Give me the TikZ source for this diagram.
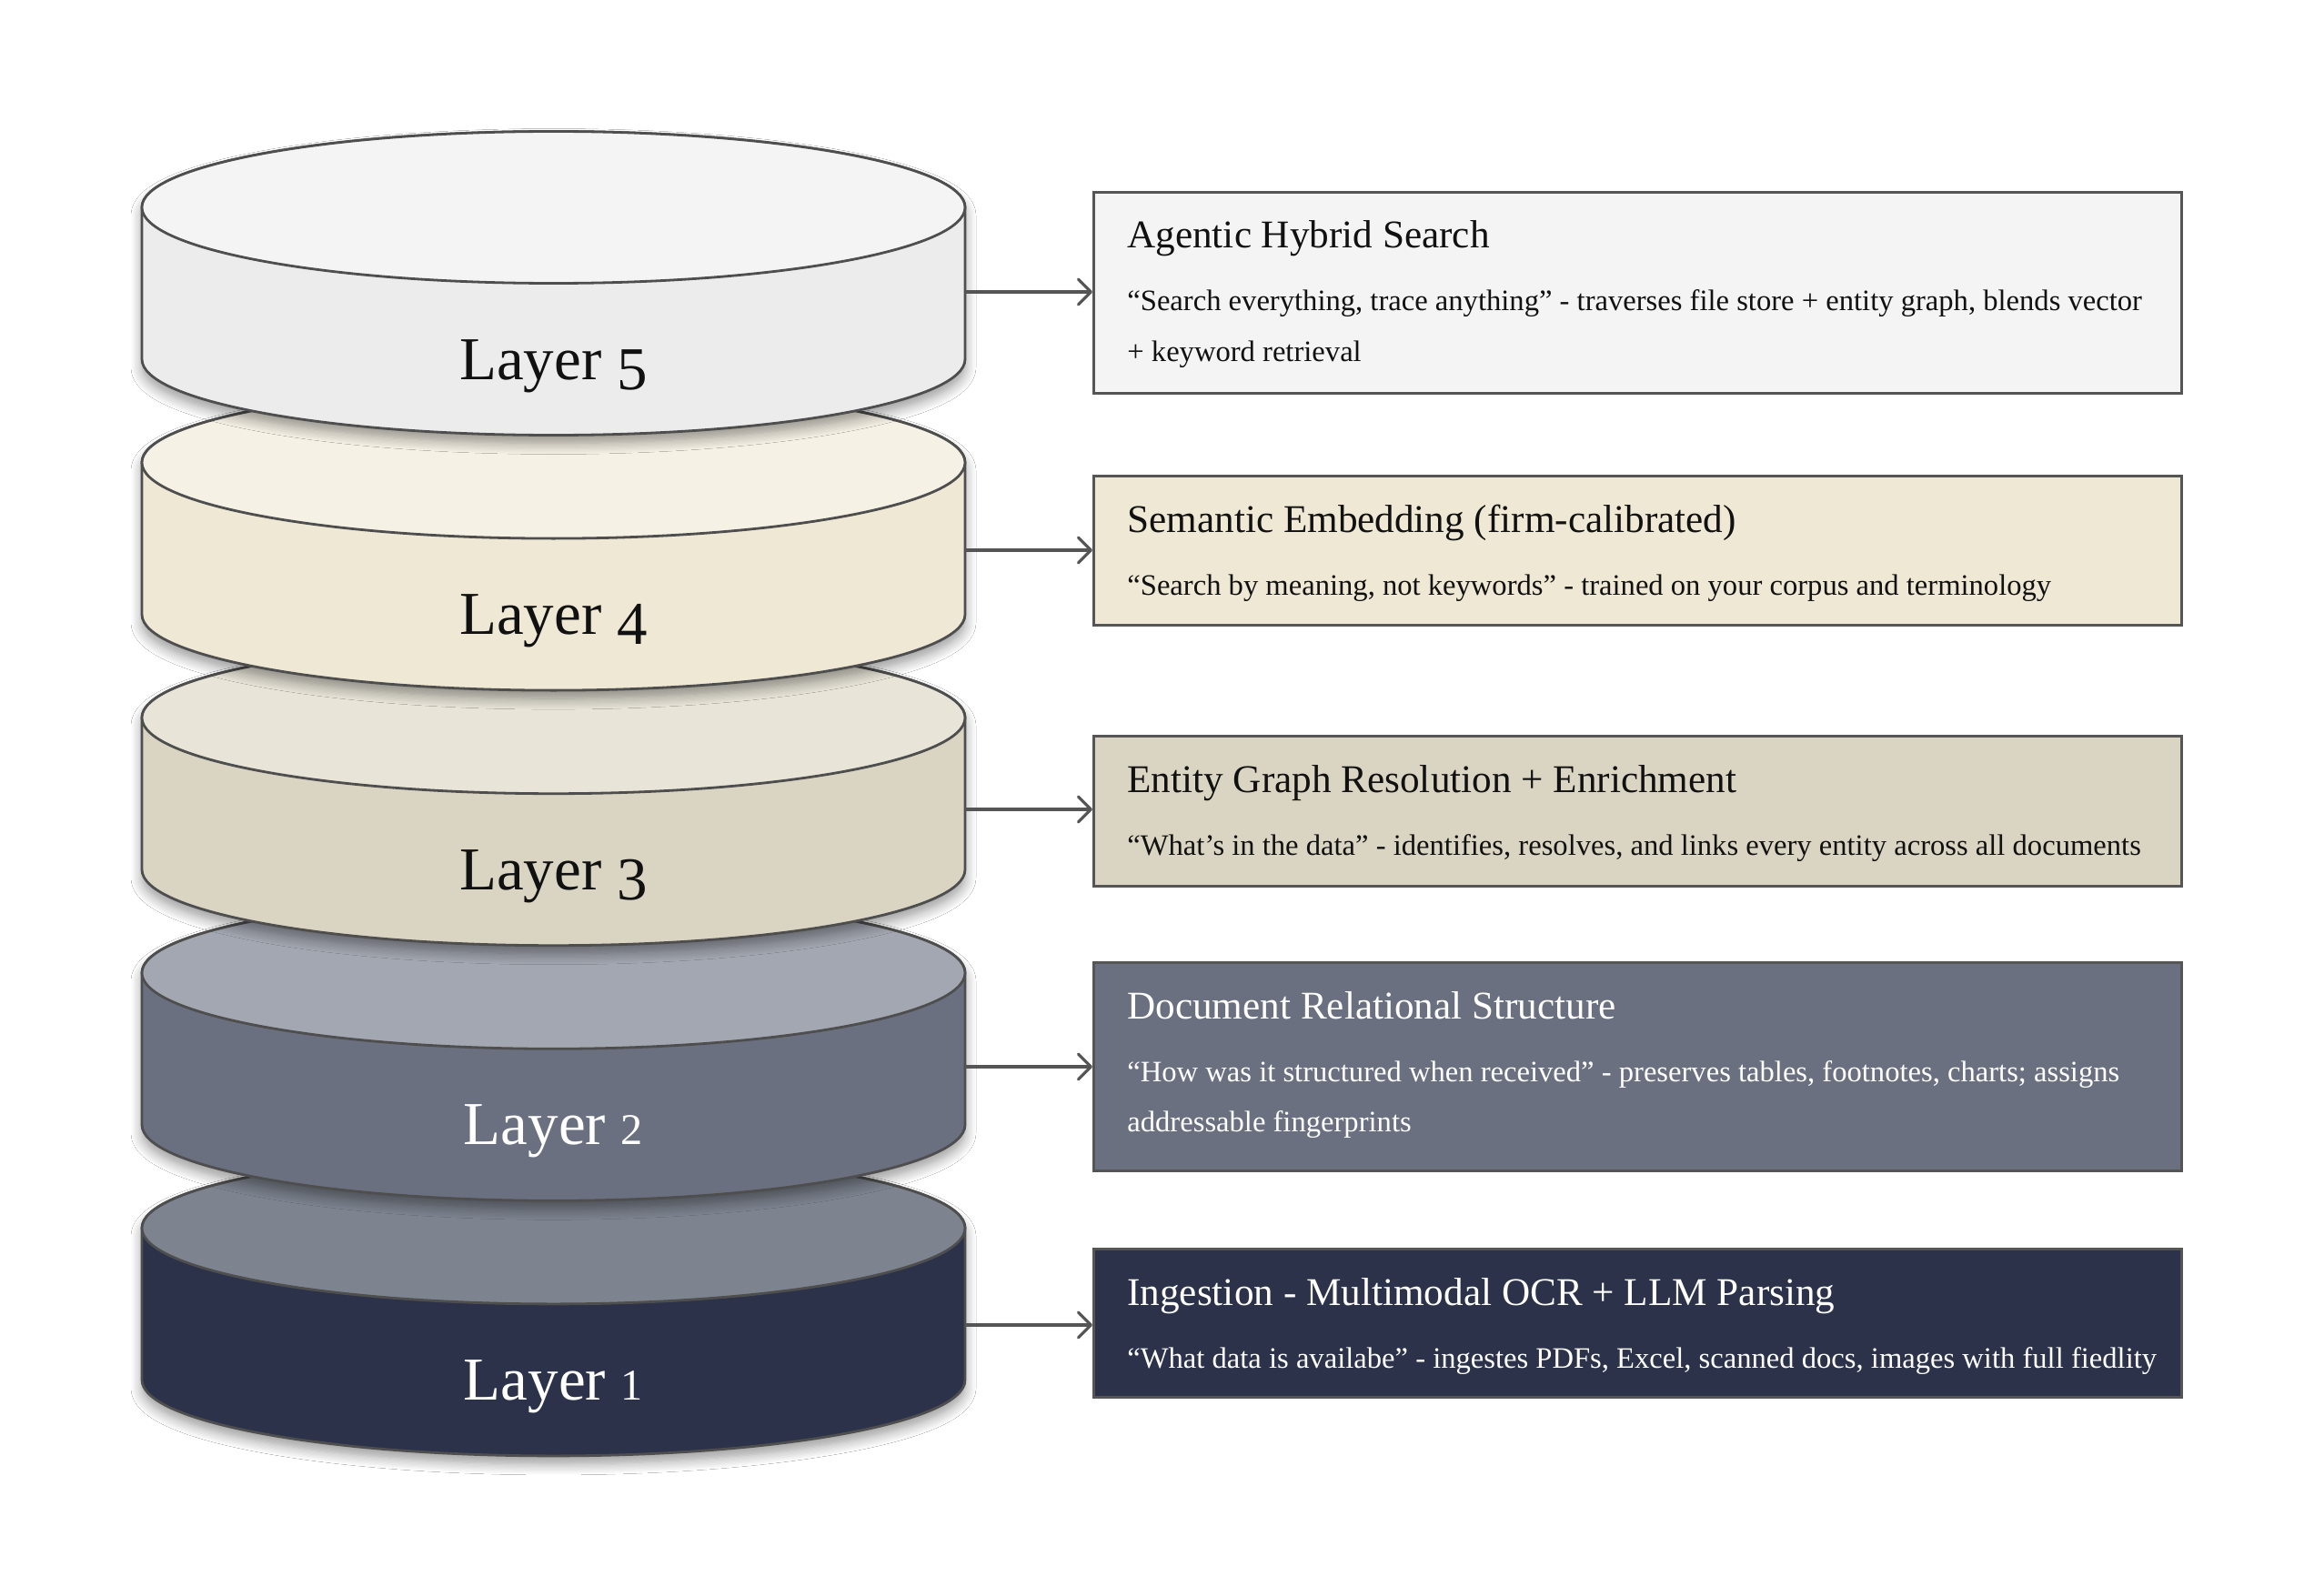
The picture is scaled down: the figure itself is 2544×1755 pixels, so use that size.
\documentclass[tikz,border=0pt]{standalone}
\usepackage{fontspec}
\usepackage{graphicx}
\setmainfont{Liberation Serif}
\usetikzlibrary{arrows.meta,shadows.blur}
\definecolor{edge}{HTML}{4E4E4E}
\definecolor{boxedge}{HTML}{555555}
\definecolor{cfivetop}{HTML}{F4F4F4}\definecolor{cfiveside}{HTML}{ECECEC}
\definecolor{cfourtop}{HTML}{F6F1E5}\definecolor{cfourside}{HTML}{EFE8D5}
\definecolor{cthreetop}{HTML}{E8E4D8}\definecolor{cthreeside}{HTML}{DAD4C2}
\definecolor{ctwotop}{HTML}{A3A7B1}\definecolor{ctwoside}{HTML}{6B7080}
\definecolor{conetop}{HTML}{7D838F}\definecolor{coneside}{HTML}{2B3249}
\definecolor{darktext}{HTML}{111111}
% old-style figures imitated: descending (3,4,5) and x-height (1,2)
\newcommand\osdesc[1]{\raisebox{-0.17em}{#1}}
\newcommand\osxh[1]{\scalebox{0.72}{#1}}
\newcommand\drawcyl[6]{%
  \path[blur shadow={shadow xshift=0pt,shadow yshift=-4.5pt,shadow blur steps=10,shadow blur radius=6pt,shadow opacity=40},
        fill=#3, draw=edge, line width=1.4pt]
    (156,#2) arc[start angle=180,end angle=360,x radius=452.5,y radius=83.5]
    -- (1061,#2+167) arc[start angle=0,end angle=180,x radius=452.5,y radius=83.5] -- cycle;
  \draw[fill=#4, draw=edge, line width=1.4pt] (608.5,#2) ellipse[x radius=452.5,y radius=83.5];
  \node[anchor=base, text=#6, font=\fontsize{33.5}{36}\selectfont, inner sep=0] (#1) at (608.5,#2+189) {Layer #5};
}
\tikzset{
  infobox/.style={draw=boxedge, line width=1.3pt, anchor=north west, minimum width=598pt, inner sep=0},
  ttl/.style={anchor=base west, inner sep=0, font=\fontsize{21.6}{24}\selectfont},
  sub/.style={anchor=base west, inner sep=0, font=\fontsize{16.3}{19}\selectfont},
  arr/.style={draw=boxedge, line width=1.6pt, -{Straight Barb[length=7pt,width=14pt,round]}}
}
\begin{document}
\begin{tikzpicture}[x=0.5pt,y=-0.5pt]
\useasboundingbox (0,0) rectangle (2544,1755);
\fill[white] (0,0) rectangle (2544,1755);
% cylinders, bottom to top
\drawcyl{L1}{1350.4}{coneside}{conetop}{\osxh{1}}{white}
\drawcyl{L2}{1069.8}{ctwoside}{ctwotop}{\osxh{2}}{white}
\drawcyl{L3}{789.2}{cthreeside}{cthreetop}{\osdesc{3}}{darktext}
\drawcyl{L4}{508.6}{cfourside}{cfourtop}{\osdesc{4}}{darktext}
\drawcyl{L5}{228}{cfiveside}{cfivetop}{\osdesc{5}}{darktext}
% boxes
\node[infobox, fill=cfivetop, minimum height=110.5pt] (B5) at (1201,210) {};
\node[infobox, fill=cfourside, minimum height=82pt] (B4) at (1201,522) {};
\node[infobox, fill=cthreeside, minimum height=82.5pt] (B3) at (1201,808) {};
\node[infobox, fill=ctwoside, minimum height=114.5pt] (B2) at (1201,1057) {};
\node[infobox, fill=coneside, minimum height=81.5pt] (B1) at (1201,1372) {};
% texts
\node[ttl, text=darktext] (T5) at ([xshift=19pt,yshift=-31.5pt]B5.north west) {Agentic Hybrid Search};
\node[sub, text=darktext] (S5a) at ([xshift=19pt,yshift=-66pt]B5.north west) {“Search everything, trace anything” - traverses file store + entity graph, blends vector};
\node[sub, text=darktext] (S5b) at ([xshift=19pt,yshift=-93.5pt]B5.north west) {+ keyword retrieval};
\node[ttl, text=darktext] (T4) at ([xshift=19pt,yshift=-31.5pt]B4.north west) {Semantic Embedding (firm-calibrated)};
\node[sub, text=darktext] (S4a) at ([xshift=19pt,yshift=-66pt]B4.north west) {“Search by meaning, not keywords” - trained on your corpus and terminology};
\node[ttl, text=darktext] (T3) at ([xshift=19pt,yshift=-31.5pt]B3.north west) {Entity Graph Resolution + Enrichment};
\node[sub, text=darktext] (S3a) at ([xshift=19pt,yshift=-66pt]B3.north west) {“What’s in the data” - identifies, resolves, and links every entity across all documents};
\node[ttl, text=white] (T2) at ([xshift=19pt,yshift=-31.5pt]B2.north west) {Document Relational Structure};
\node[sub, text=white] (S2a) at ([xshift=19pt,yshift=-66pt]B2.north west) {“How was it structured when received” - preserves tables, footnotes, charts; assigns};
\node[sub, text=white] (S2b) at ([xshift=19pt,yshift=-93.5pt]B2.north west) {addressable fingerprints};
\node[ttl, text=white] (T1) at ([xshift=19pt,yshift=-31.5pt]B1.north west) {Ingestion - Multimodal OCR + LLM Parsing};
\node[sub, text=white] (S1a) at ([xshift=19pt,yshift=-66pt]B1.north west) {“What data is availabe” - ingestes PDFs, Excel, scanned docs, images with full fiedlity};
% arrows
\coordinate (A5) at (1061,321);
\coordinate (A4) at (1061,605);
\coordinate (A3) at (1061,890);
\coordinate (A2) at (1061,1173);
\coordinate (A1) at (1061,1457);
\draw[arr] (A5) -- (A5 -| B5.west);
\draw[arr] (A4) -- (A4 -| B4.west);
\draw[arr] (A3) -- (A3 -| B3.west);
\draw[arr] (A2) -- (A2 -| B2.west);
\draw[arr] (A1) -- (A1 -| B1.west);
\end{tikzpicture}
\end{document}
